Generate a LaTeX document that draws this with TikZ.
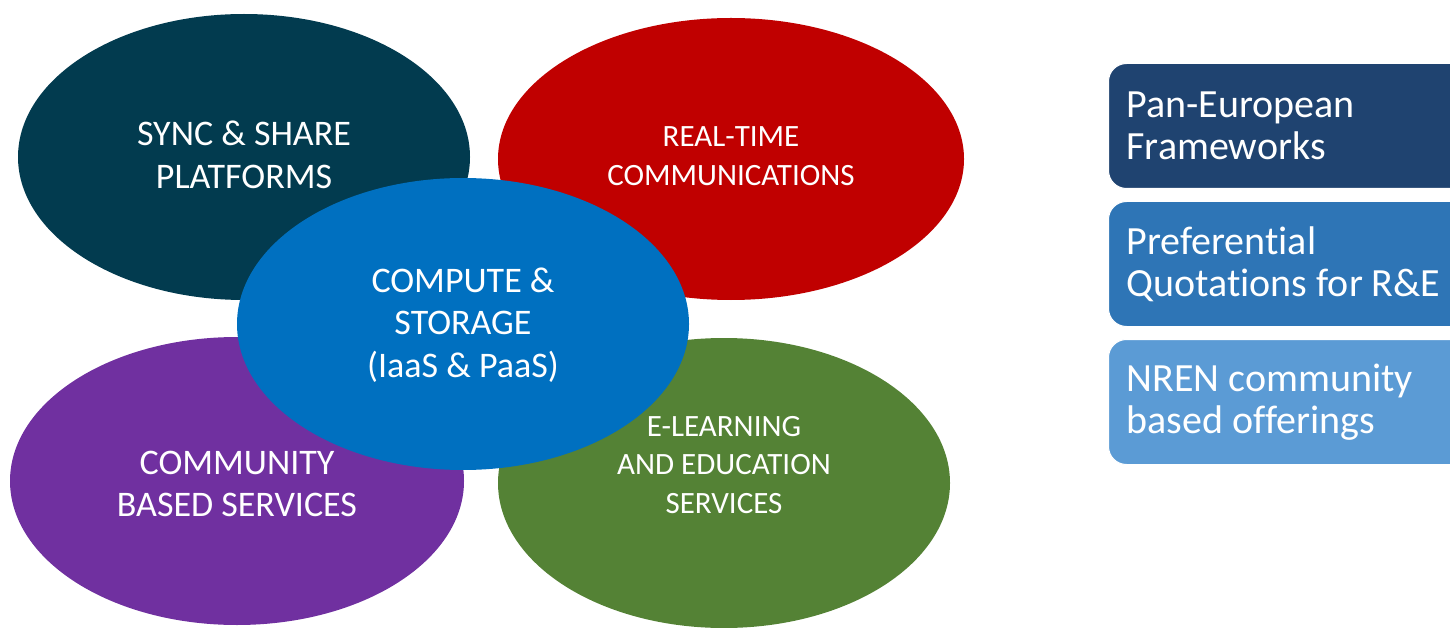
\documentclass[tikz,border=0pt]{standalone}
\usepackage{fontspec}
\setmainfont{Carlito}[Ligatures={NoCommon, NoContextual}]
\usepackage{tikz}
\usetikzlibrary{shapes.geometric}
\usetikzlibrary{positioning}
\definecolor{mteal}{HTML}{023B4F}
\definecolor{mred}{HTML}{C00000}
\definecolor{mblue}{HTML}{0070C0}
\definecolor{mpurple}{HTML}{7030A0}
\definecolor{mgreen}{HTML}{548235}
\definecolor{bdark}{HTML}{1F4370}
\definecolor{bmid}{HTML}{2E75B6}
\definecolor{blight}{HTML}{5B9BD5}
\tikzset{area/.style = {ellipse, text=white, align=center, inner sep=0pt}}
\tikzset{big/.style = {font=\fontsize{36}{42.5}\selectfont}}
\tikzset{small/.style = {font=\fontsize{31}{38.5}\selectfont}}
\tikzset{offer/.style = {rounded corners=18pt, minimum width=362pt, minimum height=125pt,
                         anchor=north west, draw=white, line width=1pt}}
\tikzset{offertext/.style = {text=white, align=left, anchor=west,
                             font=\fontsize{40}{42}\selectfont}}

\begin{document}
\begin{tikzpicture}[x=1pt, y=-1pt]
    \useasboundingbox (0, 0) rectangle (1450, 628);
    \clip (0, 0) rectangle (1450, 628);

    \node [area, fill=mteal, minimum width=452pt, minimum height=286pt] (sync) at (244, 157) {};
    \node [area, big] (synctext) at (244, 155) {SYNC \& SHARE\\PLATFORMS};
    \node [area, fill=mred, minimum width=466pt, minimum height=282pt] (rtc) at (731, 159) {};
    \node [area, small] (rtctext) at (731, 156) {REAL-TIME\\COMMUNICATIONS};
    \node [area, fill=mpurple, minimum width=454pt, minimum height=288pt] (community) at (237, 481) {};
    \node [area, big] (communitytext) at (237, 484) {COMMUNITY\\BASED SERVICES};
    \node [area, fill=mgreen, minimum width=452pt, minimum height=290pt] (learn) at (724, 483) {};
    \node [area, small] (learntext) at (724, 465) {E-LEARNING\\AND EDUCATION\\SERVICES};
    \node [area, fill=mblue, minimum width=452pt, minimum height=292pt] (compute) at (463, 324) {};
    \node [area, big] (computetext) at (463, 325) {COMPUTE \&\\STORAGE\\(IaaS \& PaaS)};

    \node [offer, fill=bdark] (pan) at (1108, 63) {};
    \node [offer, fill=bmid, below=12pt of pan.south west, anchor=north west] (pref) {};
    \node [offer, fill=blight, below=12pt of pref.south west, anchor=north west] (nren) {};

    \node [offertext] at ([xshift=15pt]pan.west) {Pan-European\\Frameworks};
    \node [offertext] at ([xshift=15pt]pref.west) {Preferential\\Quotations for R\&E};
    \node [offertext] at ([xshift=15pt]nren.west) {NREN community\\based offerings};
\end{tikzpicture}
\end{document}
